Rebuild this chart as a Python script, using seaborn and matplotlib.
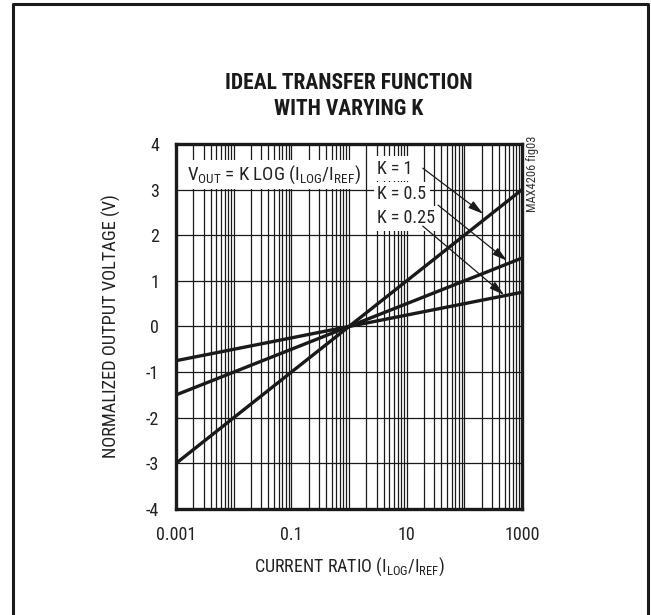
import numpy as np
import pandas as pd
import matplotlib
matplotlib.use("Agg")
import matplotlib.pyplot as plt
from matplotlib.ticker import LogLocator, NullFormatter
import seaborn as sns

# ideal transfer lines at both ends of the x range
current_ratio = [0.001, 1000]
k_labels = ["K = 1", "K = 0.5", "K = 0.25"]
v_k1 = [-3.0, 3.0]
v_k05 = [-1.5, 1.5]
v_k025 = [-0.75, 0.75]

x_ticks = [0.001, 0.01, 0.1, 1, 10, 100, 1000]
x_tick_labels = ["0.001", "", "0.1", "", "10", "", "1000"]
y_ticks = [-4, -3, -2, -1, 0, 1, 2, 3, 4]

NARROW = ["Roboto Condensed", "Archivo Narrow", "DejaVu Sans"]

sns.set_style("white")
plt.rcParams["font.family"] = NARROW
plt.rcParams["mathtext.default"] = "regular"
plt.rcParams["axes.unicode_minus"] = False

rows = []
for lab, vals in zip(k_labels, [v_k1, v_k05, v_k025]):
    for x, v in zip(current_ratio, vals):
        rows.append({"ratio": x, "vout": v, "K": lab})
df = pd.DataFrame(rows)

fig = plt.figure(figsize=(6.51, 6.15), dpi=100)
ax = fig.add_axes([0.2704, 0.1724, 0.5315, 0.5935])

sns.lineplot(data=df, x="ratio", y="vout", hue="K", palette=["#1a1a1a"] * 3,
             linewidth=2.4, legend=False, ax=ax, zorder=3)

ax.set_xscale("log")
ax.set_xlim(0.001, 1000)
ax.set_ylim(-4, 4)
ax.set_xticks(x_ticks)
ax.set_xticklabels(x_tick_labels)
ax.xaxis.set_minor_locator(LogLocator(base=10, subs=np.arange(2, 10)))
ax.xaxis.set_minor_formatter(NullFormatter())
ax.set_yticks(y_ticks)
ax.set_yticklabels([str(v) for v in y_ticks])
ax.tick_params(axis="x", which="both", length=0, labelsize=13, pad=12,
               colors="#222222")
ax.tick_params(axis="y", which="both", length=0, labelsize=13, pad=12,
               colors="#222222")
ax.grid(True, which="major", axis="both", color="#1a1a1a", lw=0.9)
ax.grid(True, which="minor", axis="x", color="#1a1a1a", lw=0.9)
for sp in ax.spines.values():
    sp.set_linewidth(2.4)
    sp.set_color("#1a1a1a")
    sp.set_zorder(5)

ax.set_xlabel("CURRENT RATIO (I$_{LOG}$/I$_{REF}$)", fontsize=13, color="#222222")
ax.set_ylabel("NORMALIZED OUTPUT VOLTAGE (V)", fontsize=13.2, color="#222222")
ax.xaxis.set_label_coords(0.5, -0.128)
ax.yaxis.set_label_coords(-0.16, 0.5)

ax.set_title("IDEAL TRANSFER FUNCTION\nWITH VARYING K", fontsize=15.5,
             fontweight="heavy", color="#1a1a1a", pad=21, linespacing=1.22)

box = dict(facecolor="white", edgecolor="none", pad=2.5)
ax.text(0.00155, 3.33, "V$_{OUT}$ = K LOG (I$_{LOG}$/I$_{REF}$)", fontsize=13.6,
        va="center", ha="left", bbox=box, zorder=4, color="#222222")
label_y = [3.46, 2.90, 2.37]
for lab, ly in zip(k_labels, label_y):
    ax.text(3.1, ly, lab, fontsize=13, va="center", ha="left", bbox=box,
            zorder=4, color="#222222")

arrow = dict(arrowstyle="-|>,head_length=0.9,head_width=0.25", color="#1a1a1a",
             lw=0.9, shrinkA=0, shrinkB=0)
ax.annotate("", xy=(211, 2.47), xytext=(19, 3.47), arrowprops=arrow, zorder=6)
ax.annotate("", xy=(550, 1.44), xytext=(35, 2.66), arrowprops=arrow, zorder=6)
ax.annotate("", xy=(488, 0.69), xytext=(19, 2.20), arrowprops=arrow, zorder=6)

fig.text(0.818, 0.717, "MAX4206 fig03", rotation=90, fontsize=9,
         ha="center", va="center", color="#333333")

# outer frame (open at the bottom like the source page)
fig.add_artist(plt.Line2D([0.0195, 0.0195, 0.996, 0.996], [0.0, 0.993, 0.993, 0.0],
                          transform=fig.transFigure, color="#1a1a1a", lw=2.2))

fig.savefig("out.png", dpi=100)
plt.close()
